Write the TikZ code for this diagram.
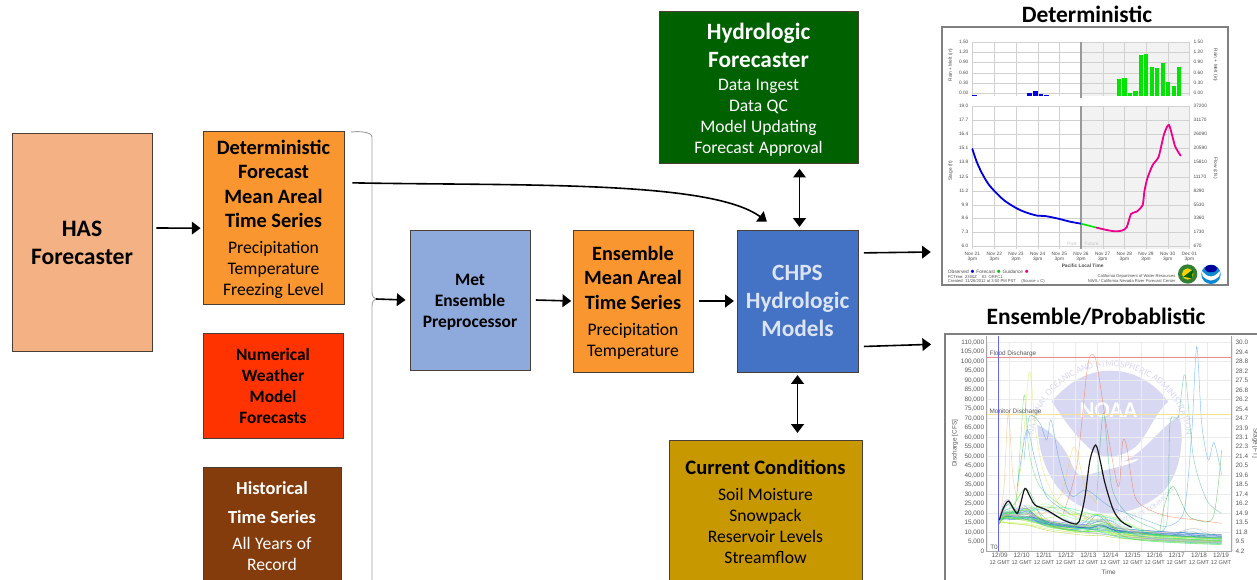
\documentclass[tikz,border=0pt]{standalone}
\usepackage{fontspec}
\setmainfont{Carlito}
\newfontfamily\chartfont{Liberation Sans}
\usetikzlibrary{fit,arrows.meta,decorations.text,calc}
\definecolor{hasfill}{HTML}{F4B183}
\definecolor{orangefill}{HTML}{F9962F}
\definecolor{nwpfill}{HTML}{FF3300}
\definecolor{histfill}{HTML}{843C0C}
\definecolor{metfill}{HTML}{8EA9DB}
\definecolor{chpsfill}{HTML}{4472C4}
\definecolor{hydrofill}{HTML}{006100}
\definecolor{curfill}{HTML}{C89800}
\definecolor{boxedge}{HTML}{4A3F35}
\definecolor{wm}{HTML}{D8D8F2}
\definecolor{chpstext}{HTML}{DCE4F2}
\definecolor{floodc}{HTML}{F08C8C}
\definecolor{monc}{HTML}{F2E48C}
\newcommand{\linestrut}[1]{\leavevmode\vrule width 0pt height \dimexpr #1pt*7/10\relax depth \dimexpr #1pt*3/10\relax}
\newcommand{\LL}[3]{{\fontsize{#1}{#2}\selectfont\lineskiplimit=1000pt \lineskip=0pt \linestrut{#2}#3\par}}
\newcommand{\BL}[3]{{\fontsize{#1}{#2}\selectfont\bfseries\lineskiplimit=1000pt \lineskip=0pt \linestrut{#2}#3\par}}
\tikzset{
  fbox/.style={draw=boxedge,line width=0.7pt,inner sep=0pt,align=center,text=black},
  arr/.style={-{Triangle[length=6.5pt,width=9.5pt]},line width=1.2pt,black},
  dblarr/.style={{Triangle[length=6.5pt,width=9.5pt]}-{Triangle[length=6.5pt,width=9.5pt]},line width=1.2pt,black},
  bracket/.style={draw=gray!75,line width=0.7pt},
  charttitle/.style={font=\fontsize{17.6}{20}\selectfont\bfseries,inner sep=0pt},
  chartframe/.style={draw=gray,line width=0.9pt,fill=white,inner sep=0pt},
  tick/.style={font=\chartfont\fontsize{3.6}{4}\selectfont,text=black!70,inner sep=0pt},
  etick/.style={font=\chartfont\fontsize{4.8}{5}\selectfont,text=black!65,inner sep=0pt},
  grid/.style={draw=black!18,line width=0.25pt},
  mem/.style={line width=0.4pt,opacity=0.5},
  pk/.style={line width=0.4pt,opacity=0.42},
}
\begin{document}
\begin{tikzpicture}[x=0.75pt,y=-0.75pt]
\useasboundingbox (0,0) rectangle (1257,579);
\clip (0,0) rectangle (1257,579);

%---- boxes
\node[fbox,fill=hasfill,minimum width=105pt,minimum height=163.5pt,text width=100pt] (has) at (82,242) {\vskip4pt\BL{17.7}{21}{HAS}\BL{17.7}{21}{Forecaster}};
\node[fbox,fill=orangefill,minimum width=105.75pt,minimum height=129.75pt,text width=102pt] (det) at (273.5,217.5) {\vskip3pt\BL{15.3}{18.4}{Deterministic}\BL{15.3}{18.4}{Forecast}\BL{15.3}{18.4}{Mean Areal}\BL{15.3}{18.4}{Time Series}\vskip3pt\LL{13.2}{15.75}{Precipitation}\LL{13.2}{15.75}{Temperature}\LL{13.2}{15.75}{Freezing Level}};
\node[fbox,fill=nwpfill,minimum width=105pt,minimum height=78.75pt,text width=100pt] (nwp) at (273,385.5) {\vskip3pt\BL{13}{15.75}{Numerical}\BL{13}{15.75}{Weather}\BL{13}{15.75}{Model}\BL{13}{15.75}{Forecasts}};
\node[fbox,fill=histfill,text=white,minimum width=103.5pt,minimum height=87.75pt,text width=100pt] (hist) at (272,525.5) {\BL{13.8}{21.75}{Historical}\BL{13.8}{21.75}{Time Series}\vskip2pt\LL{13.2}{15.75}{All Years of}\LL{13.2}{15.75}{Record}};
\node[fbox,fill=metfill,minimum width=90pt,minimum height=105pt,text width=88pt] (met) at (470,300) {\vskip3pt\BL{13.1}{15.75}{Met}\BL{13.1}{15.75}{Ensemble}\BL{13.1}{15.75}{Preprocessor}};
\node[fbox,fill=orangefill,minimum width=90pt,minimum height=106.5pt,text width=88pt] (ens) at (633,301) {\vskip3pt\BL{15.2}{18.4}{Ensemble}\BL{15.2}{18.4}{Mean Areal}\BL{15.2}{18.4}{Time Series}\vskip3pt\LL{13.2}{15.75}{Precipitation}\LL{13.2}{15.75}{Temperature}};
\node[fbox,fill=chpsfill,text=chpstext,minimum width=90.75pt,minimum height=106.5pt,text width=88pt] (chps) at (797.5,301) {\vskip3pt\BL{17.5}{21}{CHPS}\BL{17.5}{21}{Hydrologic}\BL{17.5}{21}{Models}};
\node[fbox,fill=hydrofill,text=white,minimum width=149.25pt,minimum height=114pt,text width=145pt] (hydro) at (758.5,87) {\vskip4pt\BL{17.5}{21}{Hydrologic}\BL{17.5}{21}{Forecaster}\LL{13.2}{15.75}{Data Ingest}\LL{13.2}{15.75}{Data QC}\LL{13.2}{15.75}{Model Updating}\LL{13.2}{15.75}{Forecast Approval}};
\node[fbox,fill=curfill,minimum width=144.75pt,minimum height=108pt,text width=140pt] (cur) at (765.5,512) {\vskip3pt\BL{15.4}{18.4}{Current Conditions}\vskip3pt\LL{13.2}{15.75}{Soil Moisture}\LL{13.2}{15.75}{Snowpack}\LL{13.2}{15.75}{Reservoir Levels}\LL{13.2}{15.75}{Streamflow}};

%---- deterministic chart
\node[charttitle] (dettitle) at (1087,14) {Deterministic};
\node[chartframe,fit={(942,27)(1228,285)}] (detchart) {};
\begin{scope}[shift={(930,0)},x=0.25pt,y=-0.25pt]
  \fill[black!5] (453,125) rectangle (780,287);
  \fill[black!5] (453,318) rectangle (780,748);
  \foreach \x in {127,193,258,323,388,453,518,583,648,713,778} {
    \draw[grid] (\x,125)--(\x,287);
    \draw[grid] (\x,318)--(\x,748);
  }
  \foreach \y/\l in {125/1.50,156/1.20,187/0.90,218/0.60,249/0.30,280/0.00} {
    \draw[grid] (127,\y)--(780,\y);
    \node[tick,anchor=east] at (116,\y) {\l};
    \node[tick,anchor=west] at (790,\y) {\l};
  }
  \foreach \y/\l/\r in {318/19.0/37200,360/17.7/31170,403/16.4/26090,445/15.1/20590,487/13.8/15810,530/12.5/11170,572/11.2/8290,614/9.9/5530,655/8.6/3360,697/7.3/1730,738/6.0/670} {
    \draw[grid] (127,\y)--(780,\y);
    \node[tick,anchor=east] at (116,\y) {\l};
    \node[tick,anchor=west] at (790,\y) {\r};
  }
  \draw[draw=black!40,line width=0.8pt] (453,125)--(453,293) (453,318)--(453,748);
  \foreach \a/\t in {127/284,292/278,310/273,327/282,343/284}
    \fill[blue!90!black] (\a,\t) rectangle ++(13,-\t+287);
  \foreach \a/\t in {560/238,577/235,593/279,610/272,626/165,642/161,659/200,675/205,692/190,708/246,725/257,741/202}
    \fill[green!90!black] (\a,\t) rectangle ++(13,-\t+287);
  \draw[blue!85!black,line width=1.35pt,line cap=round] plot[smooth] coordinates {(127,447)(140,485)(155,518)(175,552)(200,580)(225,603)(260,625)(290,638)(322,647)(345,648)(385,656)(420,665)(453,671)};
  \draw[green!90!black,line width=1.2pt] (453,671)--(500,683);
  \draw[magenta,line width=1.35pt,line cap=round] plot[smooth,tension=0.4] coordinates {(500,683)(530,690)(555,694)(575,692)(590,682)(603,642)(620,635)(638,615)(643,575)(652,535)(668,495)(686,470)(702,403)(717,375)(735,438)(752,467)};
  \node[tick,text=black!22] at (426,733) {Past};
  \node[tick,text=black!22] at (485,733) {Future};
  \foreach \x/\d in {127/Nov 21,193/Nov 22,258/Nov 23,323/Nov 24,388/Nov 25,453/Nov 26,518/Nov 27,583/Nov 28,648/Nov 29,713/Nov 30,778/Dec 01}
    \node[tick,align=center] at (\x,770) {\d\\3pm};
  \node[tick,font=\chartfont\bfseries\fontsize{3.6}{4}\selectfont] at (458,797) {Pacific Local Time};
  \node[tick,rotate=90] at (62,195) {Rain + Melt (in)};
  \node[tick,rotate=-90] at (856,195) {Rain + Melt (in)};
  \node[tick,rotate=90] at (62,512) {Stage (ft)};
  \node[tick,rotate=-90] at (856,505) {Flow (cfs)};
  \node[tick,anchor=west] at (53,814) {Observed {\color{blue}$\bullet$} Forecast {\color{green!80!black}$\bullet$} Guidance {\color{magenta}$\bullet$}};
  \node[tick,anchor=west,font=\chartfont\fontsize{3.1}{4}\selectfont] at (53,830) {FCTime: 2300Z \quad ID: ORFC1};
  \node[tick,anchor=west,font=\chartfont\fontsize{3.1}{4}\selectfont] at (53,843) {Created: 11/26/2012 at 3:00 PM PST \quad (Source = C)};
  \node[tick,anchor=east,font=\chartfont\fontsize{3.1}{4}\selectfont] at (737,830) {California Department of Water Resources};
  \node[tick,anchor=east,font=\chartfont\fontsize{3.1}{4}\selectfont] at (737,843) {NWS / California Nevada River Forecast Center};
  \fill[black!50!green!60!gray] (773,822) circle[radius=29];
  \fill[yellow!70!orange] (773,822) circle[radius=17];
  \fill[black!60!green] (760,830) -- (790,808) -- (785,835) -- cycle;
  \fill[cyan!70!blue] (843,823) circle[radius=29];
  \fill[white] (815,812) .. controls (835,835) and (850,835) .. (871,812) -- (868,828) .. controls (850,846) and (835,846) .. (818,828) -- cycle;
  \fill[blue!60!black] (843,806) ellipse[x radius=19,y radius=11];
\end{scope}

%---- ensemble chart
\node[charttitle] (enstitle) at (1096,317) {Ensemble/Probablistic};
\node[chartframe,fit={(945,334)(1262,584)}] (enschart) {};
% watermark
\begin{scope}[shift={(1020,360)},x=0.25pt,y=-0.25pt]
  \fill[wm] (95,125) .. controls (150,60) and (210,32) .. (270,32) .. controls (340,32) and (400,65) .. (445,125)
     .. controls (400,165) and (385,225) .. (345,262) .. controls (300,295) and (250,298) .. (220,275) .. controls (165,230) and (130,175) .. (95,125) -- cycle;
  \fill[wm] (52,195) .. controls (90,210) and (125,250) .. (150,300) .. controls (165,345) and (185,355) .. (205,345)
     .. controls (260,325) and (330,320) .. (360,295) -- (310,305)
     .. controls (375,275) and (410,215) .. (478,165) .. controls (495,250) and (480,340) .. (430,395)
     .. controls (380,440) and (320,460) .. (270,460) .. controls (170,460) and (60,380) .. (52,195) -- cycle;
  \node[font=\fontsize{17}{20}\selectfont\bfseries,text=white] (noaa) at (265,150) {NOAA};
  \path[decorate,decoration={text along path,text align=center,text={|\fontsize{7}{9}\selectfont\color{wm}|NATIONAL OCEANIC AND ATMOSPHERIC ADMINISTRATION}}]
    (270,250) ++(168:230) arc[start angle=168,end angle=372,radius=230];
  \path[decorate,decoration={text along path,text align=right,text={|\fontsize{5.5}{7}\selectfont\color{wm}|U.S. DEPARTMENT OF COMMERCE}}]
    (270,250) ++(125:238) arc[start angle=125,end angle=35,radius=238];
\end{scope}
\begin{scope}[shift={(930,300)},x=0.25pt,y=-0.25pt]
  \foreach \x in {170,236,302,368,434,500,566,632,698,764,830,905} \draw[black!8,line width=0.25pt] (\x,127)--(\x,753);
  \foreach \y in {127,184,241,298,355,412,469,526,583,640,697,753} \draw[black!8,line width=0.25pt] (170,\y)--(905,\y);
  % ensemble members
  \foreach \c/\b/\t/\ao/\co/\wo/\at/\ct/\wt in {
   green!70/110/260/20/300/30/10/510/30,
   blue!60/95/300/55/232/14/28/288/18,
   teal!80/105/280/30/235/16/60/510/28,
   cyan!80!blue/100/320/35/290/16/50/500/30,
   green!50!yellow/115/240/40/300/20/30/510/24,
   lime!80!black/90/340/40/510/34/5/700/30,
   blue!60!cyan/105/350/25/290/20/15/760/20,
   green!80!blue/120/230/90/290/25/22/520/40,
   cyan!70!green/108/300/30/240/14/40/530/40,
   orange!60/100/280/25/300/25/30/500/40,
   yellow!80!green/95/310/20/320/30/55/500/40,
   blue!40/110/270/40/280/18/25/560/40,
   green!60/85/400/60/350/40/10/840/30,
   teal!60/98/360/40/300/30/20/780/30,
   cyan/102/260/15/300/20/15/480/40,
   blue!70/90/400/15/290/20/12/515/20,
   green!80/80/500/15/290/30/10/515/20,
   blue!90!green/85/420/12/300/30/14/515/18,
   teal!80/78/460/12/310/30/13/515/20,
   cyan!80!black/75/520/10/290/30/8/515/20,
   green!70!yellow/82/350/8/290/30/6/515/20,
   lime!80!black/72/300/6/290/30/4/515/20,
   blue!80/88/480/18/290/20/16/512/22,
   green!70!black/98/380/22/290/25/18/520/25,
   yellow!70!green/68/360/5/290/30/3/515/20,
   red!30/90/450/10/300/25/18/800/35,
   orange!40/95/360/15/320/30/20/540/50,
   teal!50/86/440/18/290/25/20/790/30,
   green!80/76/430/9/285/28/9/518/20,
   blue!70/70/500/8/290/30/12/515/16,
   cyan!60!blue/74/470/10/295/26/10/520/18,
   green!60!cyan/84/390/12/300/30/15/510/25,
   teal!70/80/410/14/290/24/11/522/18,
   lime!90!green/66/420/5/290/30/5/510/20,
   green!60/100/300/45/350/70/30/520/60,
   yellow!70!green/95/320/55/370/80/25/540/70,
   cyan!60/105/280/40/340/60/45/530/60,
   green!50!cyan/90/340/60/400/90/30/560/60,
   blue!35/110/300/35/330/60/35/520/50,
   orange!35/100/290/40/380/70/35/520/70,
   lime!70!green/85/380/30/420/70/40/540/70,
   teal!45/95/350/50/360/80/20/600/70%
  } {
    \draw[mem,\c] plot[smooth,domain=208:875,samples=45,variable=\x]
      (\x,{753-(0.055*\t+\b*exp(-(\x-208)/\t)+\ao*exp(-0.5*((\x-\co)/\wo)^2)+\at*exp(-0.5*((\x-\ct)/\wt)^2)-(\b-68)*exp(-((\x-208)/8)))});
  }
  % prominent members
  \draw[pk,yellow!80!green] plot[smooth] coordinates {(208,655)(250,625)(275,480)(298,215)(318,400)(345,530)(400,630)(480,660)};
  \draw[pk,green!70!teal] plot[smooth] coordinates {(208,655)(255,620)(272,420)(283,285)(298,460)(330,560)(400,620)(470,650)};
  \draw[pk,orange!80] plot[smooth] coordinates {(208,655)(222,560)(235,340)(250,540)(275,620)(340,640)};
  \draw[pk,red!50!orange] plot[smooth] coordinates {(400,640)(440,500)(470,220)(483,165)(500,190)(530,380)(565,560)(578,425)(590,440)(615,590)(660,630)(720,650)(800,660)(875,670)};
  \draw[pk,orange!50!yellow] plot[smooth] coordinates {(340,640)(395,580)(432,440)(465,560)(500,610)};
  \draw[pk,cyan!70!blue] plot[smooth] coordinates {(282,480)(298,350)(330,370)(350,420)(363,360)(385,470)(410,560)(430,590)(470,570)(540,620)(620,650)(700,680)};
  \draw[pk,blue!60!cyan] plot[smooth] coordinates {(262,560)(290,390)(315,480)(350,590)(420,640)};
  \draw[pk,teal!70!green] plot[smooth] coordinates {(500,600)(520,340)(545,560)(590,640)(660,680)(710,670)(720,370)(745,350)(765,225)(790,470)(830,600)(875,640)};
  \draw[pk,blue!50!cyan] plot[smooth] coordinates {(700,680)(760,640)(785,400)(800,140)(815,370)(835,480)(852,428)(875,525)};
  \draw[pk,green!60!black] plot[smooth] coordinates {(690,690)(705,610)(730,560)(770,640)(800,660)(850,650)(875,450)};
  % thresholds
  \draw[floodc,line width=0.5pt] (170,172)--(905,172);
  \draw[monc,line width=0.5pt] (170,343)--(905,343);
  \draw[blue!60,line width=0.5pt] (206,107)--(206,753);
  \draw[black!90,line width=0.9pt] plot[smooth] coordinates {(208,660)(220,625)(235,603)(250,625)(262,640)(272,610)(285,565)(300,590)(315,615)(350,630)(400,660)(440,672)(452,650)(465,590)(480,480)(497,435)(510,480)(525,550)(550,630)(575,665)(605,682)};
  % labels
  \draw[black!35,line width=0.3pt] (170,107)--(170,753)--(905,753)--(905,107);
  \foreach \y/\l in {127/{110,000},156/{105,000},184/{100,000},213/{95,000},241/{90,000},270/{85,000},298/{80,000},327/{75,000},355/{70,000},384/{65,000},412/{60,000},440/{55,000},469/{50,000},497/{45,000},526/{40,000},554/{35,000},583/{30,000},611/{25,000},640/{20,000},668/{15,000},697/{10,000},725/{5,000},753/0}
    \node[etick,anchor=east] at (163,\y) {\l};
  \foreach \y/\l in {127/30.0,156/29.4,184/28.8,213/28.2,241/27.5,270/26.8,298/26.2,327/25.4,355/24.7,384/23.9,412/23.1,440/22.3,469/21.4,497/20.5,526/19.6,554/18.5,583/17.4,611/16.2,640/14.9,668/13.5,697/11.8,725/9.5,753/4.2}
    \node[etick,anchor=west] at (916,\y) {\l};
  \node[etick,anchor=west] at (178,163) {Flood Discharge};
  \node[etick,anchor=west] at (178,335) {Monitor Discharge};
  \node[etick,anchor=west] at (180,742) {T0};
  \node[etick,rotate=90] at (75,430) {Discharge [CFS]};
  \node[etick,rotate=-90] at (976,430) {Stage [FT]};
  \node[etick] at (536,817) {Time};
  \foreach \x/\d in {209/{12/09},275/{12/10},342/{12/11},408/{12/12},475/{12/13},541/{12/14},608/{12/15},674/{12/16},740/{12/17},807/{12/18},873/{12/19}}
    \node[etick] at (\x,767) {\d};
  \foreach \x in {209,275,342,408,475,541,608,674,740,807,873}
    \node[etick,font=\chartfont\fontsize{4.2}{5}\selectfont] at (\x,787) {12 GMT};
\end{scope}

%---- connectors
\coordinate (brtop) at (351,132);
\coordinate (brtip) at (376,299);
\coordinate (brbot) at (372,584);
\draw[bracket] (brtop) .. controls (360,131) and (372,132) .. (372,137) -- (372,292) .. controls (372,297) and (374,298) .. (brtip) .. controls (374,300) and (372,301) .. (372,306) -- (brbot);
\draw[arr] ([xshift=3pt,yshift=10.5pt]has.east) -- ([xshift=-1.5pt,yshift=-8pt]det.west);
\draw[arr] (brtip) -- ([xshift=-3pt]met.west);
\draw[arr] ([xshift=4pt]met.east) -- ([xshift=-1pt]ens.west);
\draw[arr] ([xshift=4pt]ens.east) -- ([xshift=-2pt]chps.west);
\draw[arr] ([xshift=6pt,yshift=26pt]det.east) .. controls (520,186) and (710,180) .. ([xshift=-23pt,yshift=6pt]chps.north);
\draw[dblarr] ([xshift=1.5pt,yshift=2pt]chps.north) -- ([xshift=1.5pt,yshift=-4pt]chps.north |- hydro.south);
\draw[dblarr] ([yshift=-2pt]chps.south) -- ([yshift=5pt]chps.south |- cur.north);
\draw[arr] ([xshift=4pt,yshift=-17.5pt]chps.north east) -- ([xshift=-8pt,yshift=-72pt]detchart.west);
\draw[arr] ([xshift=4pt,yshift=19.5pt]chps.south east) -- ([xshift=-10pt,yshift=86pt]enschart.west);
\end{tikzpicture}
\end{document}
